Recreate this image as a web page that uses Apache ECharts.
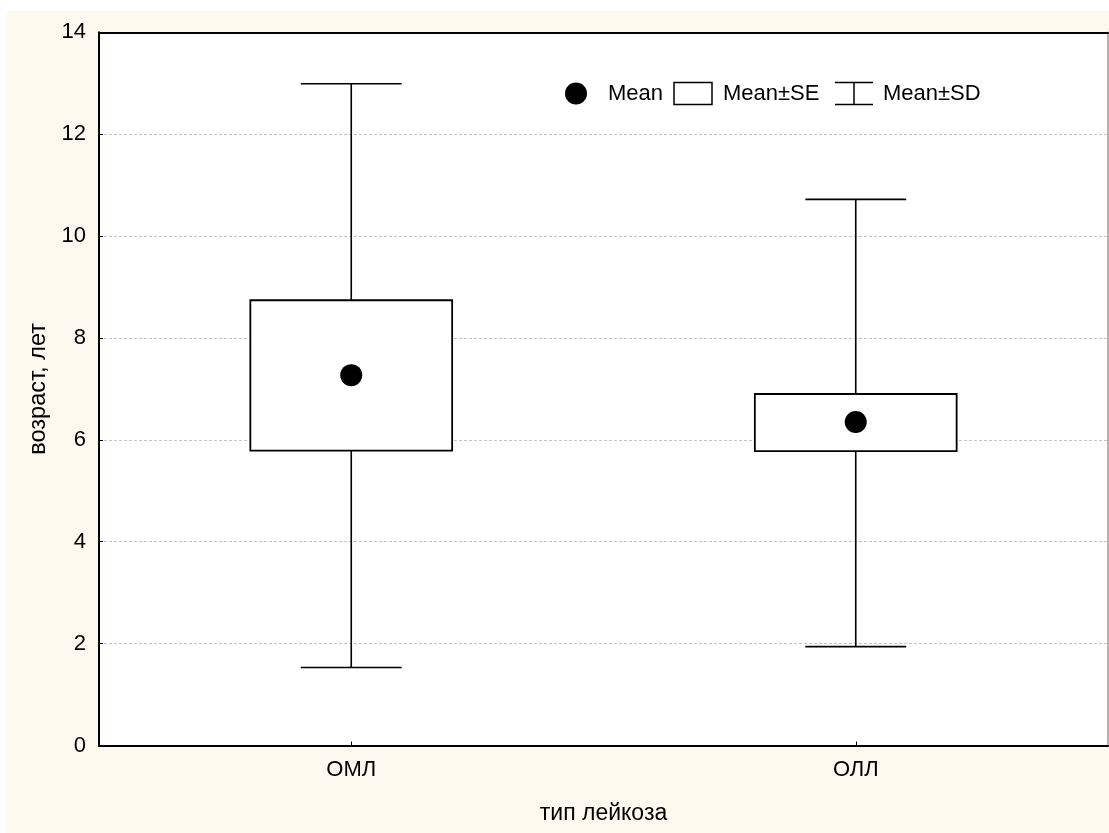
<!DOCTYPE html>
<html>
<head>
<meta charset="utf-8">
<script src="https://cdn.jsdelivr.net/npm/echarts@6/dist/echarts.min.js"></script>
<style>
html,body{margin:0;padding:0;background:#ffffff;}
#chart{position:absolute;left:7px;top:11px;width:1102px;height:822px;background:#fdf9ef;}
</style>
</head>
<body>
<div id="chart"></div>
<script>
const categories = ['ОМЛ', 'ОЛЛ'];
const means = [7.27, 6.35];
const seLow = [5.79, 5.78];
const seHigh = [8.74, 6.90];
const sdLow = [1.53, 1.94];
const sdHigh = [12.99, 10.72];
const yTicks = [0, 2, 4, 6, 8, 10, 12, 14];

const FONT = '"Liberation Sans", Arial, sans-serif';
const chart = echarts.init(document.getElementById('chart'), null, {renderer: 'canvas'});

const boxData = categories.map((c, i) => [i, seLow[i], seHigh[i], sdLow[i], sdHigh[i]]);
const meanData = categories.map((c, i) => [i, means[i]]);

function renderBox(params, api) {
  const idx = api.value(0);
  const catW = api.size([1, 0])[0];
  const pLo = api.coord([idx, api.value(1)]);
  const pHi = api.coord([idx, api.value(2)]);
  const pSdLo = api.coord([idx, api.value(3)]);
  const pSdHi = api.coord([idx, api.value(4)]);
  const x = pLo[0];
  const bw = catW * 0.4;
  const cw = catW * 0.2;
  const ls = {stroke: '#000', lineWidth: 1.6};
  return {
    type: 'group',
    children: [
      {type: 'line', shape: {x1: x, y1: pSdHi[1], x2: x, y2: pHi[1]}, style: ls},
      {type: 'line', shape: {x1: x - cw / 2, y1: pSdHi[1], x2: x + cw / 2, y2: pSdHi[1]}, style: ls},
      {type: 'line', shape: {x1: x, y1: pLo[1], x2: x, y2: pSdLo[1]}, style: ls},
      {type: 'line', shape: {x1: x - cw / 2, y1: pSdLo[1], x2: x + cw / 2, y2: pSdLo[1]}, style: ls},
      {type: 'rect', shape: {x: x - bw / 2, y: pHi[1], width: bw, height: pLo[1] - pHi[1]},
        style: {fill: '#fff', stroke: '#000', lineWidth: 1.8}}
    ]
  };
}

const option = {
  animation: false,
  backgroundColor: 'transparent',
  grid: {left: 92, top: 21.3, right: 1, bottom: 87.5, show: true, backgroundColor: '#fff', borderWidth: 0},
  xAxis: [{
    type: 'category',
    data: categories,
    position: 'bottom',
    axisLine: {show: true, onZero: false, lineStyle: {color: '#000', width: 2}},
    axisTick: {show: true, inside: true, length: 4, alignWithLabel: true, lineStyle: {color: '#000', width: 1}},
    axisLabel: {color: '#000', fontSize: 22, fontFamily: FONT, margin: 13},
    name: 'тип лейкоза',
    nameLocation: 'middle',
    nameGap: 57,
    nameTextStyle: {color: '#000', fontSize: 23, fontFamily: FONT},
    splitLine: {show: false}
  }, {
    type: 'category',
    data: categories,
    position: 'top',
    axisLine: {show: true, onZero: false, lineStyle: {color: '#000', width: 2}},
    axisTick: {show: false},
    axisLabel: {show: false},
    splitLine: {show: false},
    z: 10
  }],
  yAxis: [{
    type: 'value',
    min: 0, max: 14, interval: 2,
    position: 'left',
    axisLine: {show: true, onZero: false, lineStyle: {color: '#000', width: 2}},
    axisTick: {show: true, inside: true, length: 4, lineStyle: {color: '#000', width: 1}},
    axisLabel: {color: '#000', fontSize: 22, fontFamily: FONT, margin: 13,
      formatter: v => yTicks.includes(v) ? String(v) : ''},
    splitLine: {show: true, lineStyle: {color: '#c4c4c4', width: 1, type: [3, 2]}},
    name: 'возраст, лет',
    nameLocation: 'middle',
    nameGap: 44,
    nameRotate: 90,
    nameTextStyle: {color: '#000', fontSize: 23.5, fontFamily: FONT}
  }, {
    type: 'value',
    min: 0, max: 14, interval: 2,
    position: 'right',
    axisLine: {show: true, onZero: false, lineStyle: {color: '#9a9a9a', width: 1.5}},
    axisTick: {show: false},
    axisLabel: {show: false},
    splitLine: {show: false}
  }],
  series: [{
    name: 'Mean±SE',
    type: 'custom',
    xAxisIndex: 0, yAxisIndex: 0,
    renderItem: renderBox,
    data: boxData,
    z: 2
  }, {
    name: 'Mean',
    type: 'scatter',
    xAxisIndex: 0, yAxisIndex: 0,
    data: meanData,
    symbol: 'circle',
    symbolSize: 22,
    itemStyle: {color: '#000', opacity: 1},
    emphasis: {disabled: true},
    z: 3
  }],
  graphic: [{
    type: 'group',
    left: 558, top: 69,
    children: [
      {type: 'circle', shape: {cx: 11, cy: 11, r: 11}, style: {fill: '#000'}},
      {type: 'text', x: 43, y: 11, style: {text: 'Mean', fill: '#000', font: '22px ' + FONT, textVerticalAlign: 'middle'}},
      {type: 'rect', shape: {x: 109, y: 0, width: 38, height: 22}, style: {fill: '#fff', stroke: '#000', lineWidth: 1.5}},
      {type: 'text', x: 158, y: 11, style: {text: 'Mean±SE', fill: '#000', font: '22px ' + FONT, textVerticalAlign: 'middle'}},
      {type: 'line', shape: {x1: 270, y1: 0, x2: 308, y2: 0}, style: {stroke: '#000', lineWidth: 1.5}},
      {type: 'line', shape: {x1: 289, y1: 0, x2: 289, y2: 22}, style: {stroke: '#000', lineWidth: 1.5}},
      {type: 'line', shape: {x1: 270, y1: 22, x2: 308, y2: 22}, style: {stroke: '#000', lineWidth: 1.5}},
      {type: 'text', x: 318, y: 11, style: {text: 'Mean±SD', fill: '#000', font: '22px ' + FONT, textVerticalAlign: 'middle'}}
    ]
  }]
};
chart.setOption(option);
</script>
</body>
</html>
